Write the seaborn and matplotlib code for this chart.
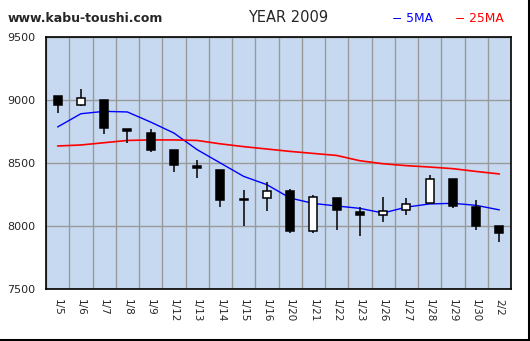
import numpy as np
import pandas as pd
import matplotlib
matplotlib.use("Agg")
import matplotlib.pyplot as plt
import seaborn as sns
from matplotlib.lines import Line2D

# Daily prices, January 2009
dates = ["1/5", "1/6", "1/7", "1/8", "1/9", "1/12", "1/13", "1/14", "1/15", "1/16",
         "1/20", "1/21", "1/22", "1/23", "1/26", "1/27", "1/28", "1/29", "1/30", "2/2"]
opens = [9029, 8957, 9002, 8770, 8740, 8606, 8479, 8447, 8215, 8222,
         8280, 7960, 8225, 8113, 8087, 8127, 8179, 8375, 8153, 8002]
highs = [9035, 9090, 9002, 8770, 8770, 8606, 8526, 8447, 8288, 8346,
         8296, 8248, 8225, 8153, 8232, 8225, 8407, 8375, 8203, 8002]
lows = [8894, 8952, 8727, 8656, 8587, 8425, 8378, 8148, 7997, 8116,
        7941, 7941, 7965, 7917, 8029, 8084, 8179, 8140, 7965, 7870]
closes = [8957, 9016, 8775, 8751, 8600, 8481, 8457, 8203, 8205, 8280,
          7957, 8230, 8124, 8084, 8119, 8175, 8375, 8156, 8002, 7941]
ma5 = [8786, 8891, 8910, 8905, 8825, 8738, 8606, 8500, 8394, 8328,
       8222, 8179, 8159, 8140, 8103, 8150, 8175, 8180, 8164, 8128]
ma25 = [8635, 8643, 8661, 8679, 8683, 8683, 8679, 8652, 8630, 8611,
        8592, 8576, 8560, 8518, 8494, 8479, 8468, 8455, 8433, 8413]
y_ticks = [7500, 8000, 8500, 9000, 9500]

sns.set_style("white")
plt.rcParams["font.family"] = ["DejaVu Sans"]

df = pd.DataFrame({"pos": np.arange(len(dates)), "open": opens, "high": highs,
                   "low": lows, "close": closes, "ma5": ma5, "ma25": ma25})

W, H = 530, 341
fig = plt.figure(figsize=(W / 100, H / 100), dpi=100)
fig.patch.set_facecolor("white")
ax = fig.add_axes([46 / W, 1 - 289 / H, 465 / W, 252 / H])
ax.set_facecolor("#C6D9F1")

# moving averages
sns.lineplot(data=df, x="pos", y="ma5", color="#0000FF", lw=1, ax=ax, zorder=3)
sns.lineplot(data=df, x="pos", y="ma25", color="#FF0000", lw=1.2, ax=ax, zorder=3)

# candlesticks
ax.vlines(df["pos"], df["low"], df["high"], color="black", lw=1.1, zorder=4)
up = df["close"] >= df["open"]
body_bottom = np.minimum(df["open"], df["close"])
body_height = np.maximum((df["close"] - df["open"]).abs(), 6)
ax.bar(df["pos"], body_height, bottom=body_bottom, width=0.34,
       color=np.where(up, "white", "black"), edgecolor="black", lw=1.1, zorder=5)

ax.set_xlim(-0.5, len(dates) - 0.5)
ax.set_ylim(7500, 9500)
ax.set_xticks(df["pos"])
ax.set_xticklabels(dates, rotation=270, fontsize=7.5, va="top", ha="center")
ax.set_xticks(np.arange(-0.5, len(dates)), minor=True)
ax.set_yticks(y_ticks)
ax.set_yticklabels([str(v) for v in y_ticks], fontsize=8)
ax.tick_params(which="both", length=0)
ax.tick_params(axis="x", pad=7)
ax.tick_params(axis="y", pad=8)
ax.grid(which="minor", axis="x", color="#999999", lw=1, zorder=0)
ax.grid(which="major", axis="y", color="#999999", lw=1, zorder=0)
ax.grid(which="major", axis="x", visible=False)
ax.set_axisbelow(True)
ax.set_xlabel("")
ax.set_ylabel("")
for s in ax.spines.values():
    s.set_color("black")
    s.set_linewidth(1.2)

# header texts
fig.text(8 / W, 1 - 19 / H, "www.kabu-toushi.com", fontsize=9, fontweight="bold",
         va="center", ha="left")
fig.text(288 / W, 1 - 18 / H, "YEAR 2009", fontsize=10.5, va="center", ha="center")
fig.text(392 / W, 1 - 18 / H, "\u2212 5MA", fontsize=8.8, color="#0000FF",
         va="center", ha="left")
fig.text(455 / W, 1 - 18 / H, "\u2212 25MA", fontsize=8.8, color="#FF0000",
         va="center", ha="left")

# right and bottom frame edges
fig.add_artist(Line2D([1 - 1.5 / W, 1 - 1.5 / W], [0, 1], transform=fig.transFigure,
                      color="black", lw=2.2))
fig.add_artist(Line2D([0, 1], [1.5 / H, 1.5 / H], transform=fig.transFigure,
                      color="black", lw=2.2))

fig.savefig("out.png", dpi=100)
